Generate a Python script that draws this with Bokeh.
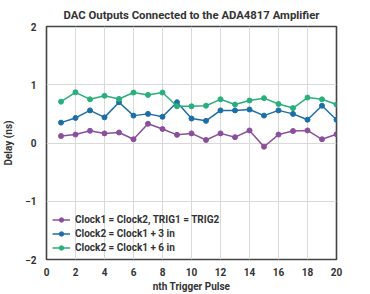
from bokeh.plotting import figure
from bokeh.embed import file_html
from bokeh.resources import INLINE
from bokeh.models import FixedTicker, Range1d, Legend, LegendItem

pulses = list(range(1, 21))
same = [0.12, 0.145, 0.21, 0.165, 0.18, 0.064, 0.33, 0.24, 0.14, 0.165,
        0.052, 0.165, 0.10, 0.215, -0.064, 0.145, 0.205, 0.215, 0.064, 0.15]
plus3 = [0.35, 0.43, 0.56, 0.44, 0.70, 0.47, 0.50, 0.45, 0.70, 0.42,
         0.38, 0.56, 0.56, 0.575, 0.47, 0.56, 0.50, 0.40, 0.64, 0.40]
plus6 = [0.71, 0.87, 0.75, 0.81, 0.756, 0.866, 0.826, 0.866, 0.63, 0.63,
         0.64, 0.75, 0.66, 0.73, 0.77, 0.67, 0.60, 0.78, 0.75, 0.66]
labels = ["Clock1 = Clock2, TRIG1 = TRIG2", "Clock2 = Clock1 + 3 in", "Clock2 = Clock1 + 6 in"]
colors = ["#8a4f9c", "#1d6ea8", "#2aae7c"]

FONT = "Roboto"
p = figure(width=370, height=294, output_backend="svg", toolbar_location=None,
           x_range=Range1d(0, 20), y_range=Range1d(-2, 2),
           min_border_left=13, min_border_right=34, min_border_top=12, min_border_bottom=7)
p.title.text = "DAC Outputs Connected to the ADA4817 Amplifier"
p.title.align = "center"
p.title.text_font = FONT
p.title.text_font_size = "8.5pt"
p.title.text_font_style = "bold"
p.title.text_color = "#333333"

p.xaxis.ticker = FixedTicker(ticks=list(range(0, 21, 2)))
p.yaxis.ticker = FixedTicker(ticks=[-2, -1, 0, 1, 2])
p.xaxis.axis_label = "nth Trigger Pulse"
p.yaxis.axis_label = "Delay (ns)"
for ax in (p.xaxis[0], p.yaxis[0]):
    ax.axis_line_color = None
    ax.major_tick_line_color = None
    ax.minor_tick_line_color = None
    ax.major_label_text_font = FONT
    ax.major_label_text_font_style = "bold"
    ax.major_label_text_font_size = "7.5pt"
    ax.major_label_text_color = "#333333"
    ax.axis_label_text_font = FONT
    ax.axis_label_text_font_style = "bold"
    ax.axis_label_text_font_size = "7.5pt"
    ax.axis_label_text_color = "#333333"
p.xaxis.major_label_standoff = 2
p.yaxis.major_label_standoff = 4
p.xaxis.axis_label_standoff = 2
p.yaxis.axis_label_standoff = 8

p.xgrid.grid_line_color = "#d9d9d9"
p.ygrid.grid_line_color = "#d9d9d9"
p.outline_line_color = "#444444"
p.outline_line_width = 1.6

items = []
for ys, lab, c in zip([same, plus3, plus6], labels, colors):
    r1 = p.line(pulses, ys, line_color=c, line_width=1.5)
    r2 = p.scatter(pulses, ys, size=5, fill_color=c, line_color=c)
    items.append(LegendItem(label=lab, renderers=[r1, r2]))

legend = Legend(items=items, location="bottom_left")
legend.background_fill_alpha = 0
legend.border_line_color = None
legend.label_text_font = FONT
legend.label_text_font_style = "bold"
legend.label_text_font_size = "7.5pt"
legend.label_text_color = "#333333"
legend.glyph_width = 18
legend.glyph_height = 11
legend.label_height = 11
legend.spacing = 3
legend.padding = 4
legend.margin = 6
p.add_layout(legend, "center")

open("out.html", "w").write(file_html(p, INLINE))
